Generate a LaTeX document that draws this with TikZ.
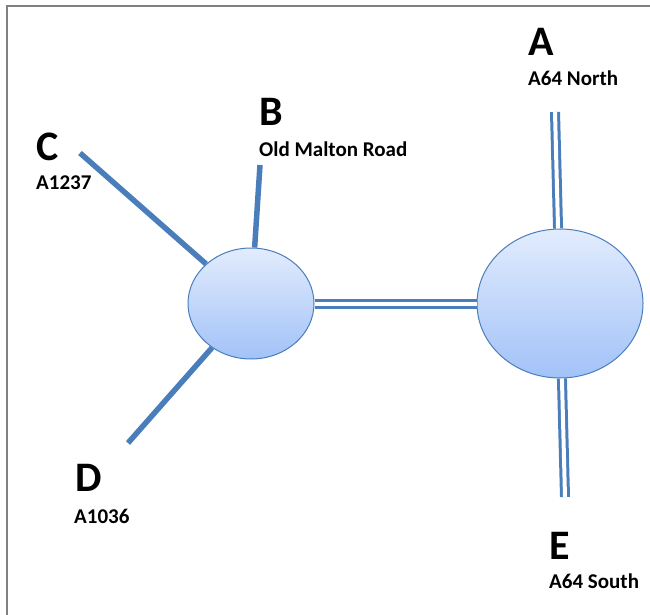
\documentclass[tikz,border=0pt]{standalone}
\usepackage{fontspec}
\setmainfont{Carlito}
\usetikzlibrary{shapes.geometric}

\definecolor{roadblue}{RGB}{74,126,187}
\definecolor{ringtop}{RGB}{226,236,253}
\definecolor{ringbot}{RGB}{162,194,248}

\begin{document}
\begin{tikzpicture}[x=1pt,y=-1pt]
	\tikzstyle{every node}=[inner sep=0pt]
	\tikzstyle{roundabout}=[ellipse,draw=roadblue,line width=1pt,
		top color=ringtop,bottom color=ringbot]
	\tikzstyle{letter}=[anchor=base west,font=\bfseries\fontsize{42}{42}\selectfont]
	\tikzstyle{roadname}=[anchor=base west,font=\bfseries\fontsize{21}{21}\selectfont]
	\tikzstyle{single}=[draw=roadblue,line width=5.5pt]
	\tikzstyle{dual}=[draw=roadblue,line width=3pt,double=white,double distance=4pt]

	\useasboundingbox (0,0) rectangle (650,615);
	% frame
	\draw[gray,line width=2.5pt] (7,615) -- (7,6) -- (650,6);

	% the two roundabouts
	\node[roundabout,minimum width=126,minimum height=111] (west) at (251,303.5) {};
	\node[roundabout,minimum width=166,minimum height=149] (east) at (560,303.5) {};

	% loose road ends
	\coordinate (endA) at (555,112);
	\coordinate (endB) at (260,165);
	\coordinate (endC) at (80,153);
	\coordinate (endD) at (128,443);
	\coordinate (endE) at (565,497);

	% roads
	\path[dual] (west) -- (east);
	\path[dual] (endA) -- (east);
	\path[dual] (endE) -- (east);
	\path[single] (endB) -- (west);
	\path[single] (endC) -- (west);
	\path[single] (endD) -- (west);

	% labels
	\node[letter] (labA) at (528,56) {A};
	\node[roadname] (nameA) at (528,86) {A64 North};
	\node[letter] (labB) at (259,125) {B};
	\node[roadname] (nameB) at (259,157) {Old Malton Road};
	\node[letter] (labC) at (36,160) {C};
	\node[roadname] (nameC) at (36,189) {A1237};
	\node[letter] (labD) at (75,491) {D};
	\node[roadname] (nameD) at (74,523) {A1036};
	\node[letter] (labE) at (549,559) {E};
	\node[roadname] (nameE) at (549,588) {A64 South};
\end{tikzpicture}
\end{document}
